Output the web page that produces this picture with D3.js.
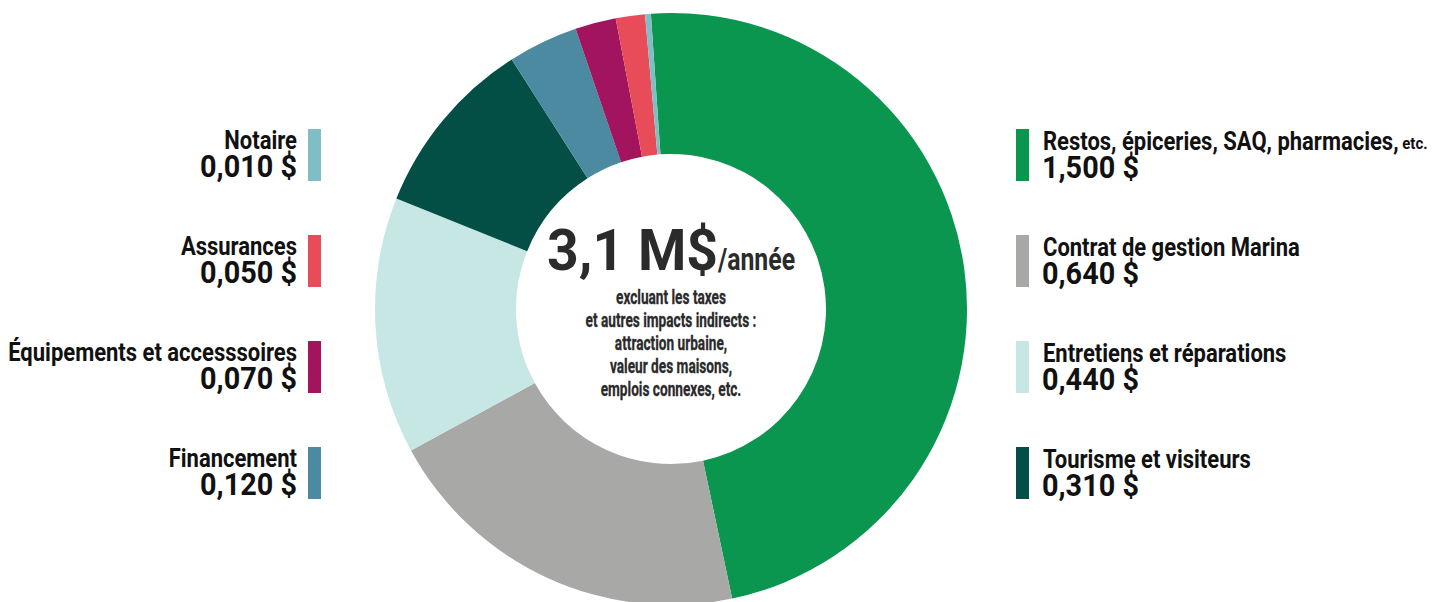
<!DOCTYPE html>
<html>
<head>
<meta charset="utf-8">
<script src="https://cdn.jsdelivr.net/npm/d3@7"></script>
<style>
  body { margin: 0; background: #fff; }
  svg { display: block; font-family: Roboto, "Liberation Sans", sans-serif; font-weight: bold; }
</style>
</head>
<body>
<svg id="chart" width="1448" height="602"></svg>
<script>
// slices, clockwise from the top
const categories = [
  "Restos, épiceries, SAQ, pharmacies,",
  "Contrat de gestion Marina",
  "Entretiens et réparations",
  "Tourisme et visiteurs",
  "Financement",
  "Équipements et accesssoires",
  "Assurances",
  "Notaire"
];
const values = [1.5, 0.64, 0.44, 0.31, 0.12, 0.07, 0.05, 0.01];
const colors = ["#0b9650", "#a8a8a6", "#c6e7e4", "#034f45", "#4b8aa0", "#a3145e", "#e84c58", "#80bec5"];
const rightItems = [0, 1, 2, 3];
const leftItems = [7, 6, 5, 4];
const totalLabel = "3,1 M$";
const totalUnit = "/année";
const noteLines = [
  "excluant les taxes",
  "et autres impacts indirects :",
  "attraction urbaine,",
  "valeur des maisons,",
  "emplois connexes, etc."
];

const fr = d3.formatLocale({decimal: ",", thousands: " ", grouping: [3], currency: ["", " $"]});
const money = fr.format("$.3f");

// no condensed face installed, so squeeze the glyphs horizontally
function squeeze(sel, k) {
  sel.each(function() {
    const el = d3.select(this);
    const x = +el.attr("x") || 0;
    el.attr("transform", `translate(${x * (1 - k)},0) scale(${k},1)`);
  });
}

const svg = d3.select("#chart");
const cx = 671, cy = 309, rOuter = 296, rInner = 155;
const offset = -0.068;

const pie = d3.pie().sort(null).value(d => d)
  .startAngle(offset).endAngle(2 * Math.PI + offset);
const arc = d3.arc().innerRadius(rInner).outerRadius(rOuter);

const g = svg.append("g").attr("transform", `translate(${cx},${cy})`);
g.selectAll("path")
  .data(pie(values))
  .join("path")
    .attr("d", arc)
    .attr("fill", (d, i) => colors[i]);

// centre text
g.append("text")
  .attr("x", 47).attr("y", -39)
  .attr("text-anchor", "end")
  .attr("font-size", 57)
  .attr("fill", "#2b2b2b")
  .text(totalLabel)
  .call(squeeze, 0.97);
g.append("text")
  .attr("x", 47).attr("y", -39)
  .attr("font-size", 31)
  .attr("fill", "#2b2b2b")
  .text(totalUnit)
  .call(squeeze, 0.8);

g.selectAll(".note")
  .data(noteLines)
  .join("text")
    .attr("class", "note")
    .attr("text-anchor", "middle")
    .attr("y", (d, i) => -5 + i * 23)
    .attr("font-size", 21)
    .attr("fill", "#2a2a2a")
    .attr("stroke", "#2a2a2a")
    .attr("stroke-width", 0.3)
    .text(d => d)
    .call(squeeze, 0.65);

// legends
const step = 106, top0 = 129, barH = 52, barW = 13;

const right = svg.append("g").selectAll("g")
  .data(rightItems)
  .join("g")
    .attr("transform", (d, i) => `translate(1016,${top0 + i * step})`);
right.append("rect")
  .attr("width", barW).attr("height", barH)
  .attr("fill", d => colors[d]);
const rl = right.append("text")
  .attr("x", 27).attr("y", 20.5)
  .attr("font-size", 25).attr("fill", "#111");
rl.append("tspan").text(d => categories[d]);
rl.filter(d => d === 0).append("tspan").attr("font-size", 17).text(" etc.");
squeeze(rl, 0.88);
right.append("text")
  .attr("x", 26).attr("y", 49)
  .attr("font-size", 31).attr("fill", "#111")
  .text(d => money(values[d]))
  .call(squeeze, 0.93);

const left = svg.append("g").selectAll("g")
  .data(leftItems)
  .join("g")
    .attr("transform", (d, i) => `translate(308,${top0 + i * step})`);
left.append("rect")
  .attr("width", barW).attr("height", barH)
  .attr("fill", d => colors[d]);
left.append("text")
  .attr("x", -11).attr("y", 19.5)
  .attr("text-anchor", "end")
  .attr("font-size", 25).attr("fill", "#111")
  .text(d => categories[d])
  .call(squeeze, 0.88);
left.append("text")
  .attr("x", -11).attr("y", 48)
  .attr("text-anchor", "end")
  .attr("font-size", 31).attr("fill", "#111")
  .text(d => money(values[d]))
  .call(squeeze, 0.93);
</script>
</body>
</html>
